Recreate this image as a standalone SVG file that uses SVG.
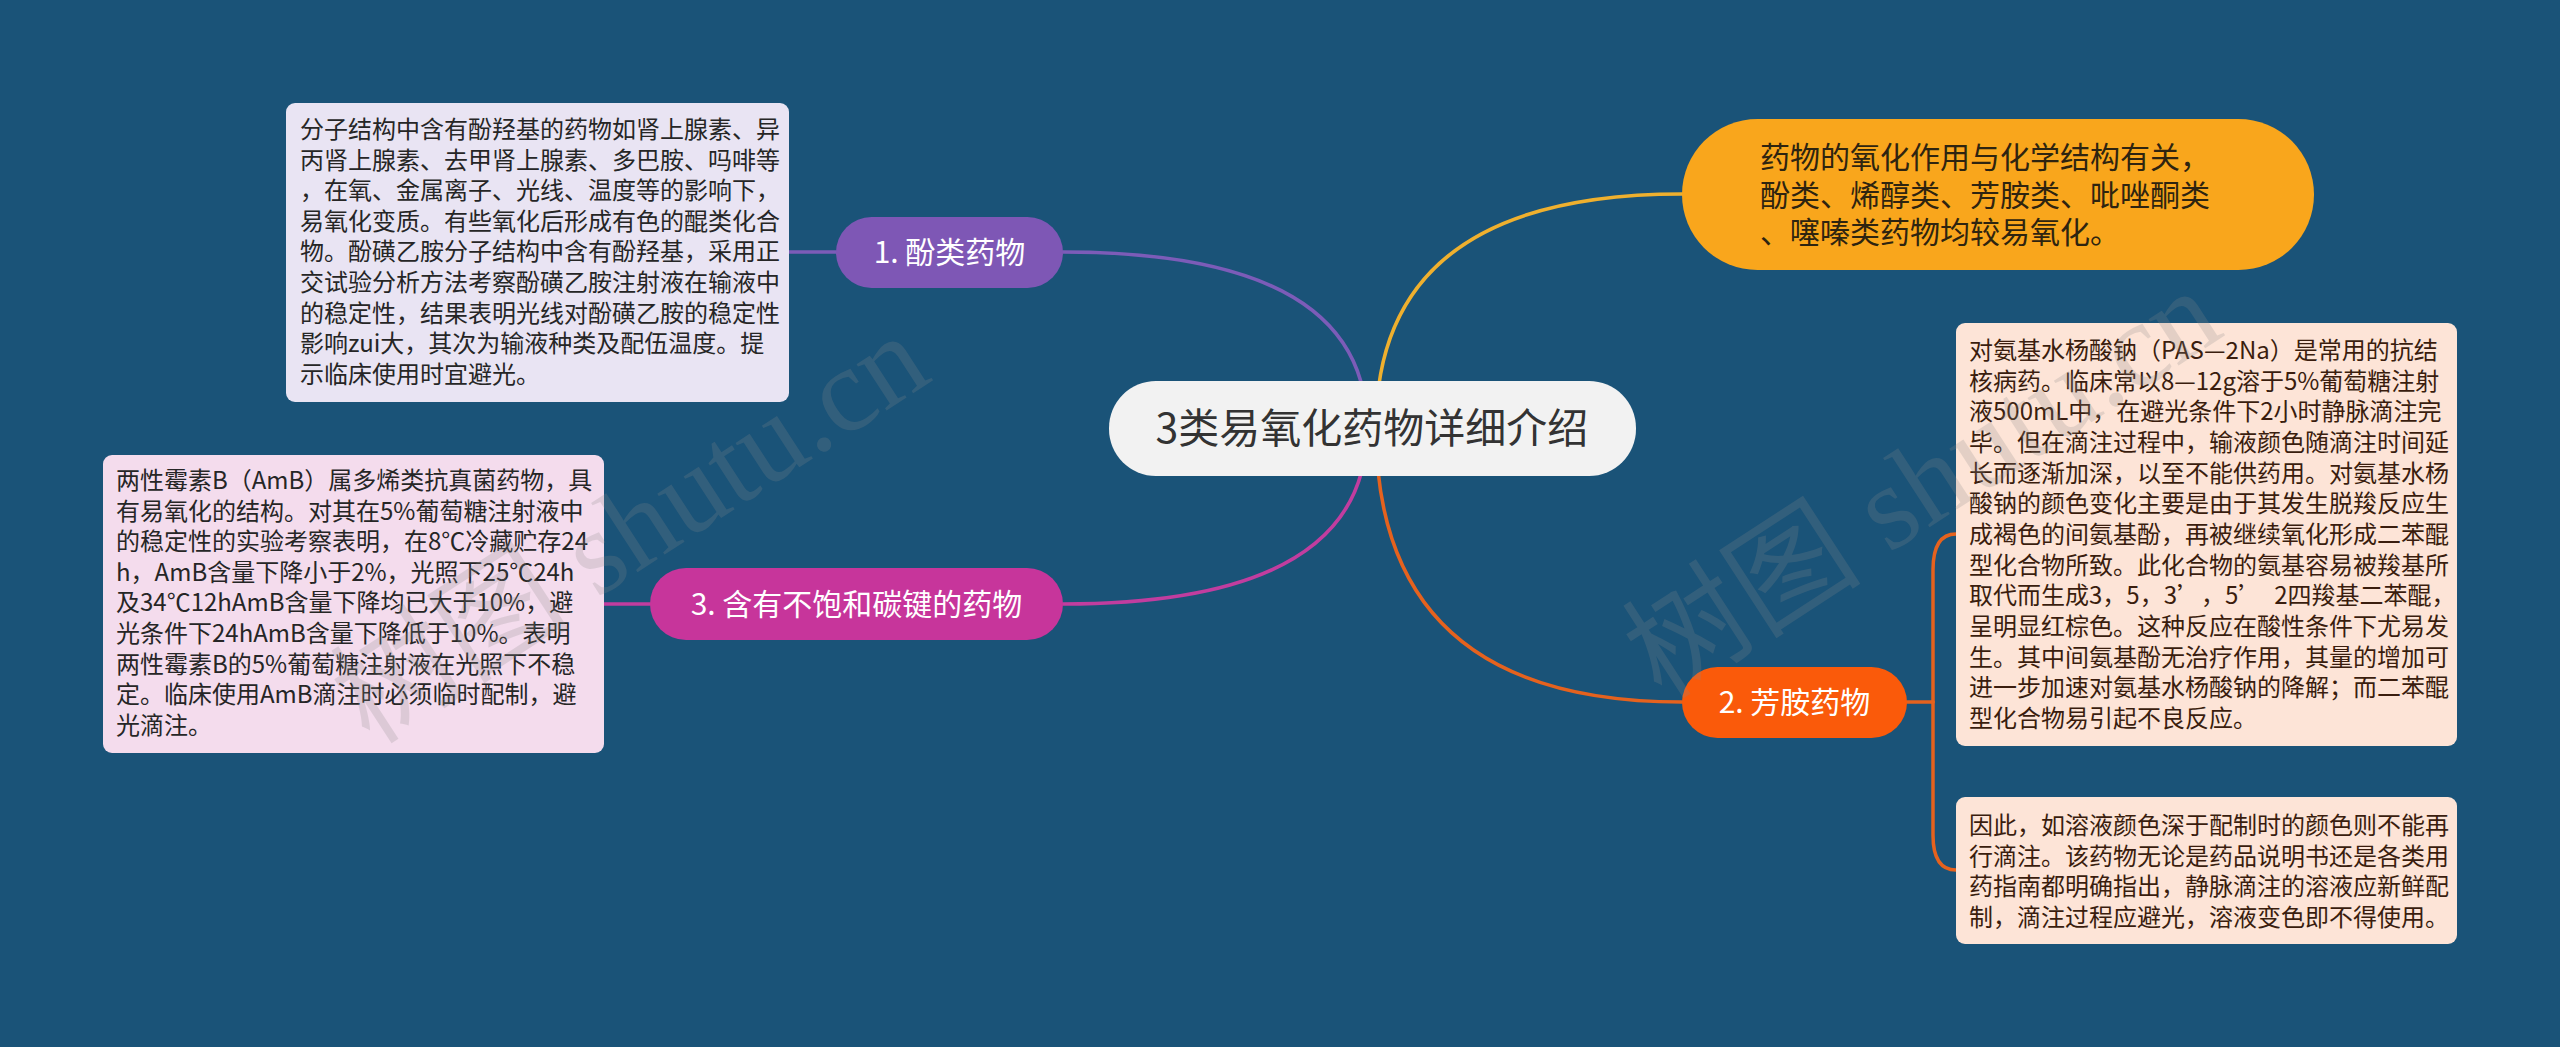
<svg xmlns="http://www.w3.org/2000/svg" width="2560" height="1047" viewBox="0 0 2560 1047">
<style>
text{font-family:"Noto Sans CJK SC","Noto Sans",sans-serif;}
.c{fill:none;stroke-width:3.5;stroke-linecap:round;}
.t24{font-size:24px;}
.dark{fill:#262626;}
.brown{fill:#3a1d0e;}
.wm{font-family:"Liberation Serif","Noto Sans CJK SC",serif;font-size:120px;fill:#8a8a8a;opacity:0.22;}
</style>
<rect x="0" y="0" width="2560" height="1047" fill="#1a5378"/>
<g id="connectors">
<path class="c" stroke="#7c5cb8" d="M1367,428 Q1367,252 1063,252"/>
<path class="c" stroke="#7c5cb8" d="M789,252 L836,252"/>
<path class="c" stroke="#c13d9f" d="M1367,428 Q1367,604 1063,604"/>
<path class="c" stroke="#c13d9f" d="M604,604 L650,604"/>
<path class="c" stroke="#efb02e" d="M1376,428 Q1376,194 1682,194"/>
<path class="c" stroke="#e5621e" d="M1376,428 Q1376,702 1682,702"/>
<path class="c" stroke="#e5621e" d="M1907,702 L1933,702"/>
<path class="c" stroke="#e5621e" d="M1933,702 L1933,570 Q1933,534 1956,534"/>
<path class="c" stroke="#e5621e" d="M1933,702 L1933,835 Q1933,870 1956,870"/>
</g>
<g id="center">
<rect x="1109" y="381" width="527" height="95" rx="47" fill="#f2f2f2"/>
<text x="1372" y="443" font-size="41" fill="#333" text-anchor="middle">3类易氧化药物详细介绍</text>
</g>
<g id="n1">
<rect x="836" y="217" width="227" height="71" rx="35.5" fill="#7e57b5"/>
<text x="949.5" y="263" font-size="30" fill="#fff" text-anchor="middle">1. 酚类药物</text>
</g>
<g id="n1-detail">
<rect x="286" y="103" width="503" height="299" rx="9" fill="#e9e4f3"/>
<text class="t24 dark">
<tspan x="300" y="138">分子结构中含有酚羟基的药物如肾上腺素、异</tspan>
<tspan x="300" y="168.6">丙肾上腺素、去甲肾上腺素、多巴胺、吗啡等</tspan>
<tspan x="300" y="199.2">，在氧、金属离子、光线、温度等的影响下，</tspan>
<tspan x="300" y="229.8">易氧化变质。有些氧化后形成有色的醌类化合</tspan>
<tspan x="300" y="260.4">物。酚磺乙胺分子结构中含有酚羟基，采用正</tspan>
<tspan x="300" y="291">交试验分析方法考察酚磺乙胺注射液在输液中</tspan>
<tspan x="300" y="321.6">的稳定性，结果表明光线对酚磺乙胺的稳定性</tspan>
<tspan x="300" y="352.2">影响zui大，其次为输液种类及配伍温度。提</tspan>
<tspan x="300" y="382.8">示临床使用时宜避光。</tspan>
</text>
</g>
<g id="n3">
<rect x="650" y="568" width="413" height="72" rx="36" fill="#c7359b"/>
<text x="856.5" y="615" font-size="30" fill="#fff" text-anchor="middle">3. 含有不饱和碳键的药物</text>
</g>
<g id="n3-detail">
<rect x="103" y="455" width="501" height="298" rx="9" fill="#f4dced"/>
<text class="t24 dark">
<tspan x="116" y="489">两性霉素B（AmB）属多烯类抗真菌药物，具</tspan>
<tspan x="116" y="519.6">有易氧化的结构。对其在5%葡萄糖注射液中</tspan>
<tspan x="116" y="550.2">的稳定性的实验考察表明，在8℃冷藏贮存24</tspan>
<tspan x="116" y="580.8">h，AmB含量下降小于2%，光照下25℃24h</tspan>
<tspan x="116" y="611.4">及34℃12hAmB含量下降均已大于10%，避</tspan>
<tspan x="116" y="642">光条件下24hAmB含量下降低于10%。表明</tspan>
<tspan x="116" y="672.6">两性霉素B的5%葡萄糖注射液在光照下不稳</tspan>
<tspan x="116" y="703.2">定。临床使用AmB滴注时必须临时配制，避</tspan>
<tspan x="116" y="733.8">光滴注。</tspan>
</text>
</g>
<g id="orange-topic">
<rect x="1682" y="119" width="632" height="151" rx="75.5" fill="#f9a61c"/>
<text font-size="30" fill="#2e2410">
<tspan x="1760" y="168">药物的氧化作用与化学结构有关，</tspan>
<tspan x="1760" y="205.5">酚类、烯醇类、芳胺类、吡唑酮类</tspan>
<tspan x="1760" y="243">、噻嗪类药物均较易氧化。</tspan>
</text>
</g>
<g id="n2">
<rect x="1682" y="667" width="225" height="71" rx="35.5" fill="#fa5a0a"/>
<text x="1794.5" y="713" font-size="30" fill="#fff" text-anchor="middle">2. 芳胺药物</text>
</g>
<g id="n2-detail-a">
<rect x="1956" y="323" width="501" height="423" rx="9" fill="#fde4d7"/>
<text class="t24 brown">
<tspan x="1969" y="359">对氨基水杨酸钠（PAS—2Na）是常用的抗结</tspan>
<tspan x="1969" y="389.7">核病药。临床常以8—12g溶于5%葡萄糖注射</tspan>
<tspan x="1969" y="420.3">液500mL中，在避光条件下2小时静脉滴注完</tspan>
<tspan x="1969" y="451">毕。但在滴注过程中，输液颜色随滴注时间延</tspan>
<tspan x="1969" y="481.7">长而逐渐加深，以至不能供药用。对氨基水杨</tspan>
<tspan x="1969" y="512.3">酸钠的颜色变化主要是由于其发生脱羧反应生</tspan>
<tspan x="1969" y="543">成褐色的间氨基酚，再被继续氧化形成二苯醌</tspan>
<tspan x="1969" y="573.7">型化合物所致。此化合物的氨基容易被羧基所</tspan>
<tspan x="1969" y="604.3">取代而生成3，5，3’<tspan dx="12">，5’</tspan><tspan dx="12">2四羧基二苯醌，</tspan></tspan>
<tspan x="1969" y="635">呈明显红棕色。这种反应在酸性条件下尤易发</tspan>
<tspan x="1969" y="665.7">生。其中间氨基酚无治疗作用，其量的增加可</tspan>
<tspan x="1969" y="696.3">进一步加速对氨基水杨酸钠的降解；而二苯醌</tspan>
<tspan x="1969" y="727">型化合物易引起不良反应。</tspan>
</text>
</g>
<g id="n2-detail-b">
<rect x="1956" y="797" width="501" height="147" rx="9" fill="#fde4d7"/>
<text class="t24 brown">
<tspan x="1969" y="834">因此，如溶液颜色深于配制时的颜色则不能再</tspan>
<tspan x="1969" y="864.5">行滴注。该药物无论是药品说明书还是各类用</tspan>
<tspan x="1969" y="895">药指南都明确指出，静脉滴注的溶液应新鲜配</tspan>
<tspan x="1969" y="925.5">制，滴注过程应避光，溶液变色即不得使用。</tspan>
</text>
</g>
<g id="watermarks">
<text class="wm" transform="translate(370,746) rotate(-33)">树图 shutu.cn</text>
<text class="wm" transform="translate(1662,701) rotate(-33)">树图 shutu.cn</text>
</g>
</svg>
